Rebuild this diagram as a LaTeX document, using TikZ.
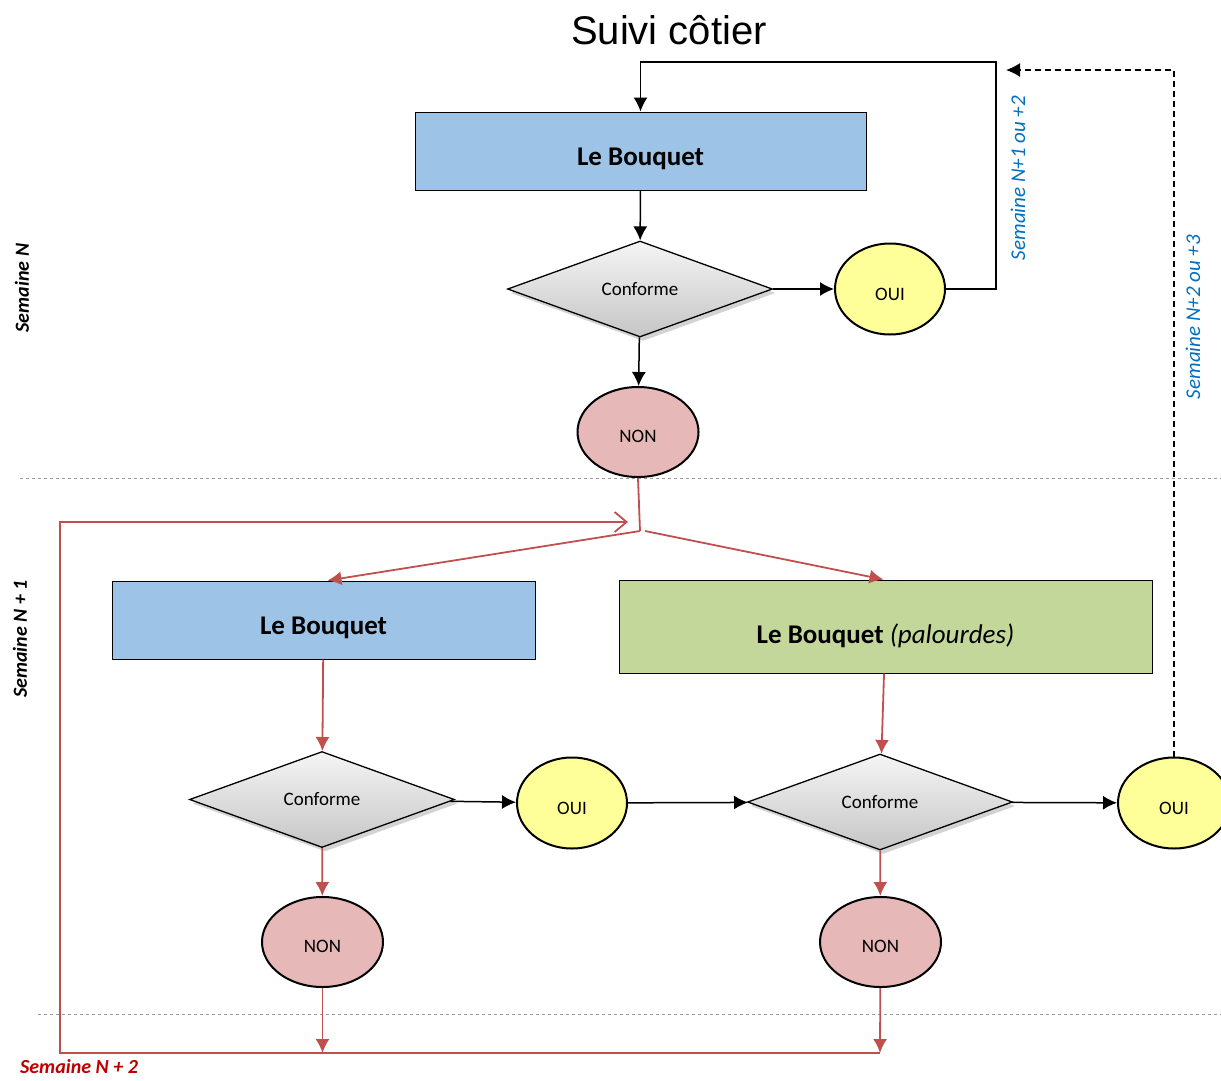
\documentclass[tikz,border=0pt]{standalone}
\usepackage{fontspec}
\setmainfont{Carlito}
\newfontfamily\titlefont{Liberation Sans}
\usetikzlibrary{arrows.meta,shapes.geometric,shadows}
\definecolor{boxblue}{RGB}{157,195,230}
\definecolor{boxgreen}{RGB}{196,215,155}
\definecolor{ouiyellow}{RGB}{255,255,153}
\definecolor{nonpink}{RGB}{230,184,183}
\definecolor{flowred}{RGB}{192,80,77}
\definecolor{weekred}{RGB}{192,0,0}
\definecolor{weekblue}{RGB}{0,112,192}
\tikzset{
    %Define standard arrow tip
    >={Latex[length=14pt,width=14pt]},
    %Define style for boxes
    bluerect/.style={
           rectangle,
           draw=black, line width=1pt,
           fill=boxblue,
           minimum height=78pt,
           text height=34pt, text depth=5pt,
           font=\fontsize{27}{32}\selectfont\bfseries,
           text centered},
    greenrect/.style={
           rectangle,
           draw=black, line width=1pt,
           fill=boxgreen,
           minimum width=533pt,
           minimum height=93pt,
           text height=38pt, text depth=5pt,
           font=\fontsize{27}{32}\selectfont,
           text centered},
    conform/.style={
           diamond,
           draw=black, line width=1.3pt,
           top color=gray!8, bottom color=gray!45,
           drop shadow={shadow xshift=3pt,shadow yshift=-4pt,opacity=.35},
           minimum width=265pt,
           minimum height=96pt,
           inner sep=0pt,
           font=\fontsize{19}{22}\selectfont},
    oui/.style={
           ellipse,
           draw=black, line width=2pt,
           fill=ouiyellow,
           minimum width=110pt,
           minimum height=91pt,
           inner sep=0pt,
           text height=22pt, text depth=0pt,
           font=\fontsize{19}{22}\selectfont},
    non/.style={
           ellipse,
           draw=black, line width=2pt,
           fill=nonpink,
           minimum width=121pt,
           minimum height=90pt,
           inner sep=0pt,
           text height=21pt, text depth=0pt,
           font=\fontsize{19}{22}\selectfont},
    week/.style={
           rotate=90,
           font=\fontsize{20}{24}\selectfont\bfseries\itshape},
    % Define arrow style
    blk/.style={->, line width=1.5pt, draw=black},
    rd/.style={->, line width=1.8pt, draw=flowred},
    sep/.style={dashed, line width=1pt, draw=gray!80}
}
\begin{document}
\begin{tikzpicture}[x=1pt,y=-1pt]
\useasboundingbox (0,0) rectangle (1221,1080);

 %week separators
\draw[sep] (20,478) -- (1221,478);
\draw[sep] (38,1014) -- (1221,1014);

 %nodes
\node[font=\titlefont\fontsize{40}{46}\selectfont] (title) at (669,30) {Suivi côtier};
\node[bluerect, minimum width=451pt] (1) at (640.5,151) {Le Bouquet};
\node[conform] (2) at (640,289) {Conforme};
\node[oui] (3) at (890,289) {OUI};
\node[non] (4) at (638,432) {NON};

\node[bluerect, minimum width=423pt] (5) at (323.5,620) {Le Bouquet};
\node[greenrect] (6) at (885.5,626.5) {\textbf{Le Bouquet} \textit{(palourdes)}};
\node[conform] (7) at (322,799.5) {Conforme};
\node[oui] (8) at (572,803) {OUI};
\node[conform] (9) at (880,802) {Conforme};
\node[oui, minimum width=112pt] (10) at (1174,803) {OUI};
\node[non] (11) at (322.5,942) {NON};
\node[non] (12) at (880.5,942) {NON};

 %week labels
\node[week] (wN) at (22,288) {Semaine N};
\node[week] (wN1) at (20,639) {Semaine N + 1};
\node[week, rotate=-90, text=weekred, font=\fontsize{20}{24}\selectfont\bfseries\itshape] (wN2) at (79,1067) {Semaine N + 2};
\node[week, font=\fontsize{21}{25}\selectfont\itshape, text=weekblue] (wA) at (1018,178) {Semaine N+1 ou +2};
\node[week, font=\fontsize{21}{25}\selectfont\itshape, text=weekblue] (wB) at (1193,317) {Semaine N+2 ou +3};

 %helper points
\coordinate (topR) at (996,62);
\coordinate (dashEnd) at (1006,70);
\coordinate (split) at (640,531);
\coordinate (loopR) at (880,1053);
\coordinate (loopL) at (60,1053);
\coordinate (back) at (628,522);

 %black connectors
\path
    (1) edge[blk] (2)
    (2) edge[blk] (4) edge[blk] (3)
    (7) edge[blk] (8)
    (8) edge[blk] (9)
    (9) edge[blk] (10);
\draw[blk] (3.east) -| (topR) -| (1.north);
\draw[blk, dash pattern=on 6pt off 4pt] (10.north) |- (dashEnd);

 %red connectors
\draw[rd, -] (4.south) -- (split);
\path
    (split) edge[rd] ([xshift=4pt]5.north)
    ([xshift=5pt]split) edge[rd] ([xshift=-2pt]6.north)
    (5) edge[rd] (7)
    (7) edge[rd] (11)
    (6) edge[rd] (9)
    (9) edge[rd] (12)
    (11) edge[rd] (11 |- loopR)
    (12) edge[rd] (loopR);
\draw[rd, -{Straight Barb[length=12pt,width=20pt]}] (loopR) -- (loopL) |- (back);
\end{tikzpicture}
\end{document}
